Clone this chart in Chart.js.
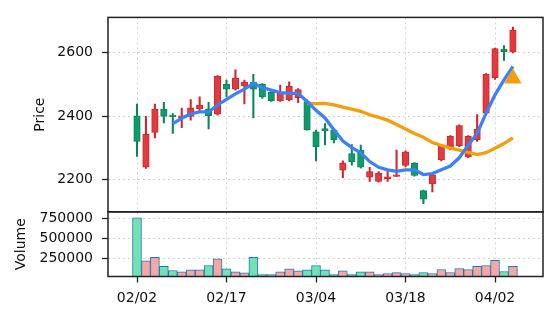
<!DOCTYPE html>
<html lang="en">
<head>
<meta charset="UTF-8">
<title>Price and Volume</title>
<script src="https://cdn.jsdelivr.net/npm/chart.js"></script>
<style>
    body { margin: 0; background: #fff; }
    #wrap { width: 556px; height: 322px; position: relative; }
</style>
</head>
<body>
<div id="wrap"><canvas id="priceChart"></canvas></div>
<script>
// daily OHLC (index 0 = 02/02)
const open  = [2401, 2238, 2348, 2422, 2403, 2394, 2399, 2423, 2422, 2406, 2500, 2485, 2495, 2507, 2500, 2475, 2449, 2451, 2458, 2446, 2350, 2360, 2356, 2229, 2281, 2292, 2207, 2193, 2201, 2209, 2244, 2251, 2164, 2185, 2261, 2296, 2306, 2271, 2325, 2409, 2521, 2611, 2603];
const high  = [2438, 2399, 2438, 2443, 2408, 2425, 2452, 2461, 2443, 2528, 2514, 2546, 2514, 2532, 2503, 2478, 2498, 2508, 2487, 2451, 2356, 2376, 2358, 2258, 2310, 2308, 2238, 2224, 2229, 2292, 2290, 2253, 2166, 2220, 2306, 2338, 2372, 2338, 2405, 2534, 2615, 2623, 2681];
const low   = [2272, 2234, 2331, 2378, 2345, 2363, 2387, 2415, 2359, 2403, 2461, 2482, 2438, 2394, 2456, 2446, 2446, 2448, 2442, 2355, 2258, 2309, 2315, 2205, 2245, 2235, 2193, 2191, 2193, 2208, 2239, 2210, 2123, 2160, 2258, 2293, 2303, 2268, 2320, 2406, 2516, 2576, 2600];
const close = [2320, 2342, 2422, 2399, 2398, 2401, 2426, 2435, 2401, 2526, 2485, 2520, 2507, 2485, 2461, 2449, 2472, 2495, 2484, 2357, 2302, 2353, 2325, 2252, 2256, 2238, 2224, 2219, 2208, 2212, 2287, 2212, 2137, 2214, 2304, 2336, 2370, 2336, 2359, 2532, 2613, 2604, 2672];
const volume = [760000, 225000, 267000, 155000, 105000, 88000, 113000, 113000, 167000, 250000, 125000, 88000, 75000, 267000, 55000, 55000, 88000, 125000, 100000, 113000, 167000, 113000, 55000, 100000, 55000, 88000, 88000, 55000, 67000, 80000, 67000, 55000, 80000, 67000, 117000, 80000, 130000, 117000, 155000, 167000, 230000, 92000, 155000];

// moving averages as drawn
const ma5  = [null, null, null, null, 2376, 2393, 2407, 2413, 2413, 2435, 2453, 2470, 2485, 2503, 2490, 2482, 2474, 2472, 2472, 2446, 2418, 2394, 2357, 2321, 2300, 2284, 2256, 2238, 2230, 2225, 2230, 2230, 2215, 2218, 2230, 2242, 2268, 2308, 2345, 2409, 2467, 2514, 2557];
const ma20 = [null, null, null, null, null, null, null, null, null, null, null, null, null, null, null, null, null, null, null, 2439, 2439, 2440, 2435, 2428, 2422, 2415, 2404, 2396, 2387, 2373, 2359, 2345, 2333, 2316, 2307, 2299, 2292, 2285, 2278, 2284, 2298, 2313, 2331];

// signal marker
const signalIdx = [42];
const signalPrice = [2519];

const tickIndex  = [0, 10, 20, 30, 40];
const tickLabels = ['02/02', '02/17', '03/04', '03/18', '04/02'];
const priceTicks = [2200, 2400, 2600];
const volTicks   = [250000, 500000, 750000];

const upFill = '#e23b3f', upEdge = '#d0262b';
const downFill = '#0e9c6c', downEdge = '#0a8559';
const volUp = '#f7a6a6', volDown = '#70e2b5';

const isUp = close.map((c, i) => c >= open[i]);
const font = { family: 'DejaVu Sans', size: 14 };

const frames = {
    id: 'frames',
    afterDraw(chart) {
        const { ctx, chartArea, scales } = chart;
        ctx.save();
        ctx.strokeStyle = '#222';
        ctx.lineWidth = 1.5;
        [scales.y, scales.yv].forEach(s => {
            ctx.strokeRect(chartArea.left, s.top, chartArea.right - chartArea.left, s.bottom - s.top);
        });
        ctx.restore();
    }
};

function fixTicks(list) {
    return scale => { scale.ticks = list.map(v => ({ value: v })); };
}

const gridOpts = { color: '#d4d4d4', lineWidth: 1, tickColor: '#222', tickWidth: 1.3, tickLength: 6 };

new Chart(document.getElementById('priceChart').getContext('2d'), {
    type: 'bar',
    data: {
        datasets: [
            {
                type: 'line', data: signalIdx.map((x, i) => ({ x: x, y: signalPrice[i] })),
                yAxisID: 'y', showLine: false, pointStyle: 'triangle', pointRadius: 10,
                pointBackgroundColor: '#f59e0b', pointBorderWidth: 0, order: 0
            },
            {
                type: 'line', data: ma5.map((v, i) => ({ x: i, y: v })), yAxisID: 'y',
                borderColor: '#3b82f6', borderWidth: 3.3, pointRadius: 0, tension: 0, spanGaps: false, order: 1
            },
            {
                type: 'line', data: ma20.map((v, i) => ({ x: i, y: v })), yAxisID: 'y',
                borderColor: '#f59e0b', borderWidth: 3.3, pointRadius: 0, tension: 0, spanGaps: false, order: 2
            },
            {
                data: open.map((o, i) => ({ x: i, y: [o, close[i]] })), yAxisID: 'y',
                backgroundColor: isUp.map(u => u ? upFill : downFill),
                borderColor: isUp.map(u => u ? upEdge : downEdge),
                borderWidth: 1, borderSkipped: false, barThickness: 6.5, minBarLength: 1.5,
                grouped: false, order: 3
            },
            {
                data: low.map((l, i) => ({ x: i, y: [l, high[i]] })), yAxisID: 'y',
                backgroundColor: isUp.map(u => u ? upEdge : downEdge),
                barThickness: 1.4, grouped: false, order: 4
            },
            {
                data: volume.map((v, i) => ({ x: i, y: v })), yAxisID: 'yv',
                backgroundColor: isUp.map(u => u ? volUp : volDown),
                borderColor: '#1f77b4', borderWidth: 1, barThickness: 8.95,
                grouped: false, order: 5
            }
        ]
    },
    options: {
        responsive: true,
        maintainAspectRatio: false,
        animation: false,
        layout: { padding: { left: 0, right: 13, top: 14, bottom: 0 } },
        plugins: { legend: { display: false }, tooltip: { enabled: false } },
        scales: {
            x: {
                type: 'linear', position: 'bottom', min: -3.24, max: 45.36, offset: false,
                afterBuildTicks: fixTicks(tickIndex),
                afterFit: s => { s.height = 45.5; },
                grid: Object.assign({ offset: false }, gridOpts),
                border: { display: false, dash: [2, 3] },
                ticks: { font: font, color: '#111', padding: 7, maxRotation: 0, autoSkip: false,
                    callback: v => tickLabels[tickIndex.indexOf(v)] }
            },
            y: {
                type: 'linear', position: 'left', stack: 'panels', stackWeight: 197, weight: 2,
                min: 2097, max: 2712,
                afterBuildTicks: fixTicks(priceTicks),
                afterFit: s => { s.width = 108; },
                grid: gridOpts,
                border: { display: false, dash: [2, 3] },
                ticks: { font: font, color: '#111', padding: 9, autoSkip: false, callback: v => String(v) },
                title: { display: true, text: 'Price', font: font, color: '#111', padding: { top: 31.6, bottom: 0 } }
            },
            yv: {
                type: 'linear', position: 'left', stack: 'panels', stackWeight: 65.5, weight: 1,
                min: 30000, max: 834000,
                afterBuildTicks: fixTicks(volTicks),
                afterFit: s => { s.width = 108; },
                grid: gridOpts,
                border: { display: false, dash: [2, 3] },
                ticks: { font: font, color: '#111', padding: 9, autoSkip: false, callback: v => String(v) },
                title: { display: true, text: 'Volume', font: font, color: '#111', padding: { top: 12.6, bottom: 0 } }
            }
        }
    },
    plugins: [frames]
});
</script>
</body>
</html>
